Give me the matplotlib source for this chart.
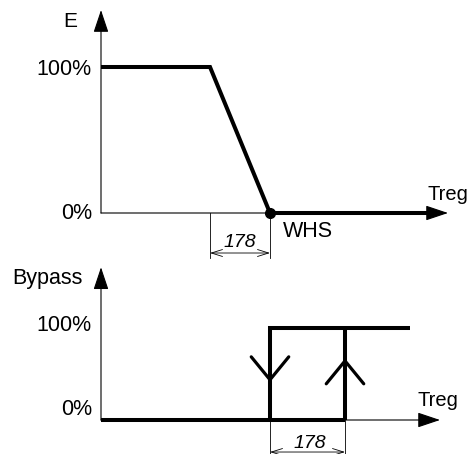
import matplotlib

matplotlib.use("Agg")
import matplotlib.pyplot as plt  # noqa: E402

# --- data (Treg in arbitrary units, output in %) ---
e_treg = [0, 10.9, 16.9]          # E: flat at 100 %, then ramps down to 0 at WHS
e_pct = [100, 100, 0]
whs = 16.9
treg_end = 34.7                   # end of the Treg axis

bypass_off = 16.9                 # bypass closes below this
bypass_on = 24.4                  # bypass opens above this
bypass_top_end = 30.9
bypass_pct = [0, 100]

band_label = "178"
pct_labels = ["0%", "100%"]

W, H = 470, 454
fig = plt.figure(figsize=(W / 100, H / 100), dpi=100)
plt.rcParams["font.family"] = ["Liberation Sans", "DejaVu Sans"]


def px_axes(x0, x1, y_top, y_bot):
    ax = fig.add_axes([x0 / W, 1 - y_bot / H, (x1 - x0) / W, (y_bot - y_top) / H])
    ax.set_axis_off()
    return ax


THICK = 2.9
THIN = 0.8
FS = 15.5

# ---------------- top: E vs Treg ----------------
ax1 = px_axes(101, 451, 8.6, 264.1)
ax1.set_xlim(0, 35)
ax1.set_ylim(-35, 140)

arrow = dict(arrowstyle="-|>,head_length=1.4,head_width=0.47", lw=THIN, color="black",
             shrinkA=0, shrinkB=0, mutation_scale=10)
ax1.annotate("", xy=(0, 139), xytext=(0, 0), arrowprops=arrow, annotation_clip=False)
ax1.annotate("", xy=(treg_end, 0), xytext=(0, 0), arrowprops=arrow, annotation_clip=False)

ax1.plot(e_treg, e_pct, color="black", lw=THICK, solid_joinstyle="miter",
         solid_capstyle="butt", clip_on=False)
ax1.plot([whs, treg_end - 1.5], [0, 0], color="black", lw=THICK, solid_capstyle="butt",
         clip_on=False)
ax1.plot([whs], [0], "o", color="black", ms=7, clip_on=False)

# dimension band under the ramp
for xv in (e_treg[1], whs):
    ax1.plot([xv, xv], [0, -31], color="black", lw=0.6, clip_on=False)
ax1.annotate("", xy=(e_treg[1], -27.4), xytext=(whs, -27.4), annotation_clip=False,
             arrowprops=dict(arrowstyle="<->,head_length=0.8,head_width=0.25", lw=0.6,
                             shrinkA=0, shrinkB=0, mutation_scale=10))
ax1.text((e_treg[1] + whs) / 2, -20.5, band_label, fontsize=14, style="italic",
         ha="center", va="center")

ax1.text(-3.1, 131.5, "E", fontsize=15, ha="center", va="center")
ax1.text(-0.9, 98, pct_labels[1], fontsize=FS, ha="right", va="center")
ax1.text(-0.9, -0.5, pct_labels[0], fontsize=FS, ha="right", va="center")
ax1.text(32.7, 13, "Treg", fontsize=14.5, ha="left", va="center")
ax1.text(18.2, -13, "WHS", fontsize=FS, ha="left", va="center")

# ---------------- bottom: Bypass vs Treg ----------------
ax2 = px_axes(101, 451, 263.6, 454.04)
ax2.set_xlim(0, 35)
ax2.set_ylim(-37, 170)

ax2.annotate("", xy=(0, 166), xytext=(0, 0), arrowprops=arrow, annotation_clip=False)
ax2.annotate("", xy=(33.9, 0), xytext=(0, 0), arrowprops=arrow, annotation_clip=False)

ax2.plot([0, bypass_on], [0, 0], color="black", lw=THICK, solid_capstyle="butt", clip_on=False)
ax2.plot([bypass_off, bypass_off, bypass_top_end], [bypass_pct[0], bypass_pct[1], bypass_pct[1]],
         color="black", lw=THICK, solid_joinstyle="miter", solid_capstyle="butt", clip_on=False)
ax2.plot([bypass_on, bypass_on], bypass_pct, color="black", lw=THICK, solid_capstyle="butt",
         clip_on=False)

vee = dict(arrowstyle="->,head_length=1.65,head_width=1.35", lw=2.3, color="black",
           shrinkA=0, shrinkB=0, mutation_scale=10)
ax2.annotate("", xy=(bypass_off, 41), xytext=(bypass_off, 60), arrowprops=vee)
ax2.annotate("", xy=(bypass_on, 67), xytext=(bypass_on, 45), arrowprops=vee)

for xv in (bypass_off, bypass_on):
    ax2.plot([xv, xv], [0, -37], color="black", lw=0.6, clip_on=False)
ax2.annotate("", xy=(bypass_off, -34.8), xytext=(bypass_on, -34.8), annotation_clip=False,
             arrowprops=dict(arrowstyle="<->,head_length=0.8,head_width=0.25", lw=0.6,
                             shrinkA=0, shrinkB=0, mutation_scale=10))
ax2.text((bypass_off + bypass_on) / 2 + 0.2, -25, band_label, fontsize=14, style="italic",
         ha="center", va="center")

ax2.text(-8.9, 154, "Bypass", fontsize=FS, ha="left", va="center")
ax2.text(-0.9, 103, pct_labels[1], fontsize=FS, ha="right", va="center")
ax2.text(-0.9, 11, pct_labels[0], fontsize=FS, ha="right", va="center")
ax2.text(31.7, 21.7, "Treg", fontsize=14.5, ha="left", va="center")

fig.savefig("out.png", dpi=100)
plt.close(fig)
